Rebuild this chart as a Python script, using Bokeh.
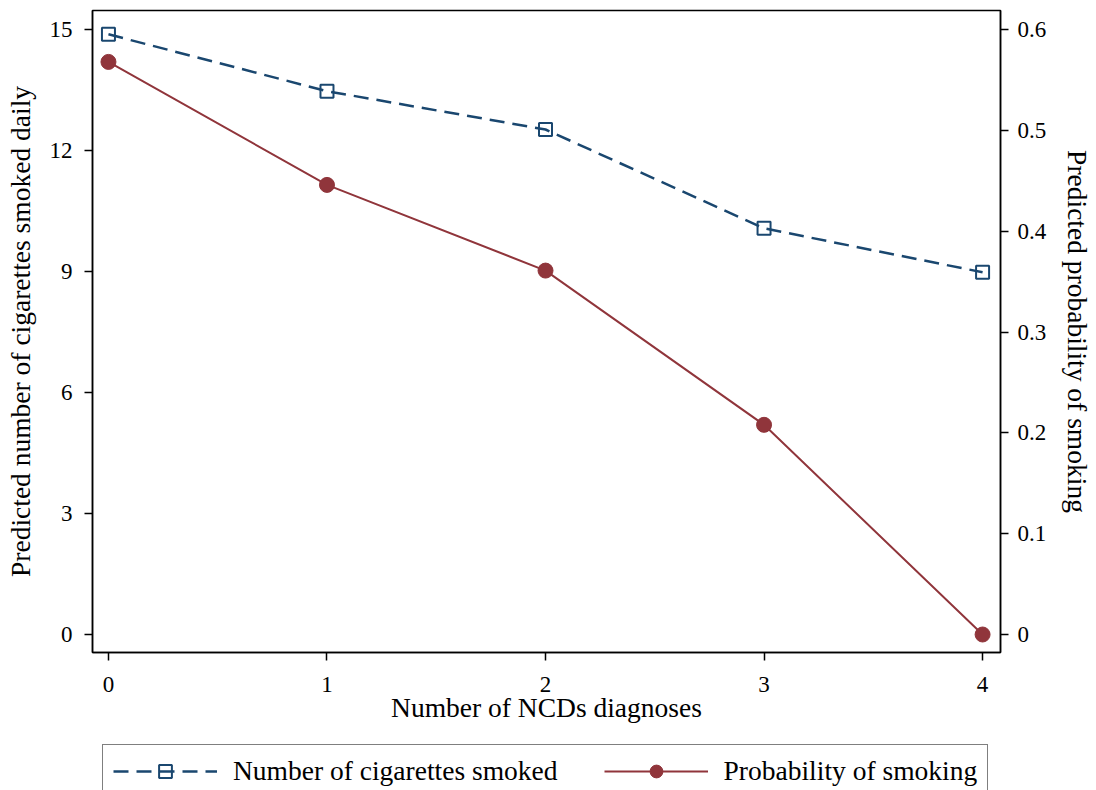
from bokeh.plotting import figure
from bokeh.models import Range1d, LinearAxis, FixedTicker, Legend, LegendItem
from bokeh.layouts import column
from bokeh.embed import file_html
from bokeh.resources import INLINE

ncds = [0, 1, 2, 3, 4]
cigarettes = [14.88, 13.47, 12.52, 10.07, 8.98]
probability = [0.568, 0.446, 0.361, 0.208, 0.0]

x_ticks = [0, 1, 2, 3, 4]
left_ticks = [0, 3, 6, 9, 12, 15]
right_ticks = [0, 0.1, 0.2, 0.3, 0.4, 0.5, 0.6]
right_labels = ["0", "0.1", "0.2", "0.3", "0.4", "0.5", "0.6"]

NAVY = "#1a476f"
MAROON = "#90353b"
FONT = "Liberation Serif"
W = 1096
LB, RB = 92, 96

p = figure(width=W, height=734, output_backend="svg", toolbar_location=None,
           x_range=Range1d(-0.073, 4.082), y_range=Range1d(-0.446, 15.47),
           min_border_left=LB, min_border_right=RB, min_border_top=10, min_border_bottom=82)
p.extra_y_ranges = {"prob": Range1d(-0.01785, 0.619)}

p.grid.visible = False
p.outline_line_color = "black"
p.outline_line_width = 1.5
p.background_fill_color = "white"
p.border_fill_color = "white"

ra = LinearAxis(y_range_name="prob")
p.add_layout(ra, "right")

for ax in [p.xaxis[0], p.yaxis[0], ra]:
    ax.major_tick_out = 8
    ax.major_tick_in = 0
    ax.minor_tick_out = 0
    ax.minor_tick_in = 0
    ax.axis_line_color = "black"
    ax.axis_line_width = 1.5
    ax.major_tick_line_width = 1.5
    ax.major_label_text_font = FONT
    ax.major_label_text_font_size = "23px"
    ax.major_label_text_color = "black"
    ax.axis_label_text_font = FONT
    ax.axis_label_text_font_size = "27.5px"
    ax.axis_label_text_font_style = "normal"
    ax.axis_label_text_color = "black"

p.xaxis[0].ticker = FixedTicker(ticks=x_ticks)
p.xaxis[0].axis_label = "Number of NCDs diagnoses"
p.xaxis[0].major_label_standoff = 16
p.xaxis[0].axis_label_standoff = -3
p.yaxis[0].ticker = FixedTicker(ticks=left_ticks)
p.yaxis[0].axis_label = "Predicted number of cigarettes smoked daily"
p.yaxis[0].major_label_standoff = 12
p.yaxis[0].axis_label_standoff = 11
ra.ticker = FixedTicker(ticks=right_ticks)
ra.major_label_overrides = {t: l for t, l in zip(right_ticks, right_labels)}
ra.axis_label = "Predicted probability of smoking"
ra.major_label_standoff = 9
ra.axis_label_standoff = 13

p.line(ncds, cigarettes, line_color=NAVY, line_width=2.5, line_dash="15 8")
p.scatter(ncds, cigarettes, marker="square", size=13, line_color=NAVY, line_width=2,
          fill_color=None)
p.line(ncds, probability, y_range_name="prob", line_color=MAROON, line_width=2)
p.scatter(ncds, probability, y_range_name="prob", marker="circle", size=15,
          line_color=MAROON, fill_color=MAROON)

# legend strip below the plot (its own glyphs lie outside its visible range)
lf = figure(width=W, height=56, output_backend="svg", toolbar_location=None,
            x_range=Range1d(0, 1), y_range=Range1d(100, 101),
            x_axis_type=None, y_axis_type=None,
            min_border_left=LB, min_border_right=RB, min_border_top=0, min_border_bottom=0)
lf.outline_line_color = None
lf.border_fill_color = "white"
lf.background_fill_color = "white"
g1 = lf.line(ncds, cigarettes, line_color=NAVY, line_width=2.5, line_dash="15 8")
g2 = lf.scatter(ncds, cigarettes, marker="square", line_color=NAVY, line_width=2,
                fill_color=None)
g3 = lf.line(ncds, probability, line_color=MAROON, line_width=2)
g4 = lf.scatter(ncds, probability, marker="circle", line_color=MAROON, fill_color=MAROON)

legend = Legend(items=[LegendItem(label="Number of cigarettes smoked", renderers=[g1, g2]),
                       LegendItem(label="Probability of smoking", renderers=[g3, g4])],
                orientation="horizontal", location="top_left",
                glyph_width=104, glyph_height=32, label_standoff=16, spacing=46,
                padding=10, margin=10,
                label_text_font=FONT, label_text_font_size="27.5px", label_text_color="black",
                border_line_color="black", border_line_width=1.5,
                background_fill_color="white", background_fill_alpha=1.0)
lf.add_layout(legend, "center")

layout = column(p, lf, spacing=0)
open("out.html", "w").write(file_html(layout, INLINE))
